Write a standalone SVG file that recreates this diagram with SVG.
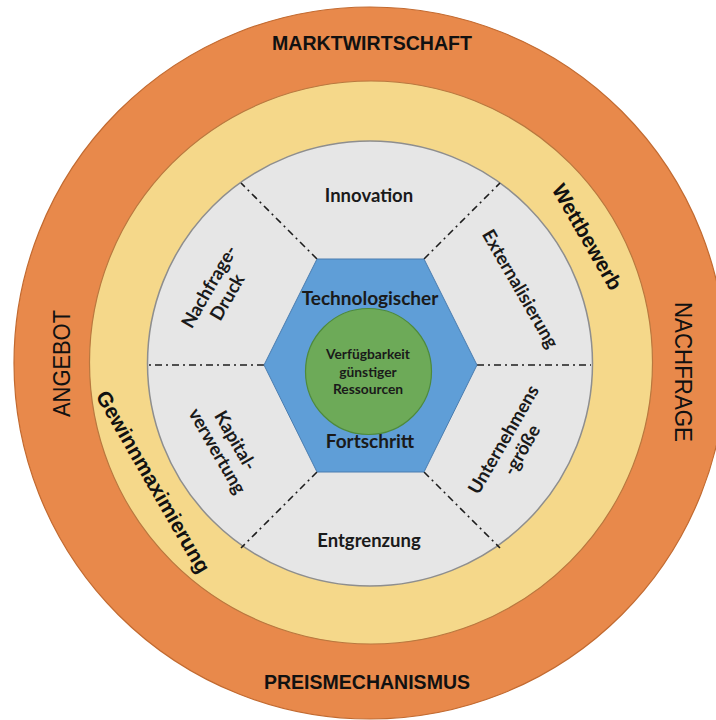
<svg xmlns="http://www.w3.org/2000/svg" width="716" height="720" viewBox="0 0 716 720">
  <style>
    .ring-o { fill: #E8894B; stroke: #C26A30; stroke-width: 1.2; }
    .ring-y { fill: #F5D88A; stroke: #B9783F; stroke-width: 1.2; }
    .ring-g { fill: #E6E6E6; stroke: #8E8E8E; stroke-width: 1.5; }
    .hex { fill: #5F9ED7; stroke: #4A7DB0; stroke-width: 1; }
    .core { fill: #6DAA58; stroke: #4E8A3B; stroke-width: 1.2; }
    .dd { stroke: #1E1E1E; stroke-width: 1.6; stroke-dasharray: 7 4 2 4; fill: none; }
    .outer { font-family: "Liberation Sans", Arial, sans-serif; fill: #111; }
    .b { font-weight: bold; }
    .seg { font-family: Lato, "Open Sans", sans-serif; font-weight: bold; font-size: 18.5px; fill: #1A1A1A; text-anchor: middle; }
    .hexlbl { font-size: 19px; }
    .corelbl { font-size: 13.8px; }
  </style>

  <g id="ring-markt">
    <circle class="ring-o" cx="370" cy="363" r="356"/>
    <text class="outer b" x="372" y="50" font-size="20" text-anchor="middle" textLength="200" lengthAdjust="spacingAndGlyphs">MARKTWIRTSCHAFT</text>
    <text class="outer b" x="367" y="689" font-size="20" text-anchor="middle" textLength="206" lengthAdjust="spacingAndGlyphs">PREISMECHANISMUS</text>
    <text class="outer" transform="translate(70,363.5) rotate(-90)" font-size="24" text-anchor="middle" textLength="107" lengthAdjust="spacingAndGlyphs">ANGEBOT</text>
    <text class="outer" transform="translate(675,372) rotate(90)" font-size="24" text-anchor="middle" textLength="140" lengthAdjust="spacingAndGlyphs">NACHFRAGE</text>
  </g>

  <g id="ring-wettbewerb">
    <circle class="ring-y" cx="371" cy="362.5" r="281.5"/>
    <text class="outer b" transform="translate(587,237) rotate(60)" font-size="21" text-anchor="middle" dy="7">Wettbewerb</text>
    <text class="outer b" transform="translate(153,482) rotate(60)" font-size="21" text-anchor="middle" dy="7">Gewinnmaximierung</text>
  </g>

  <g id="ring-faktoren">
    <circle class="ring-g" cx="370" cy="363.5" r="222.5"/>
  </g>

  <g id="connectors">
    <line class="dd" x1="317" y1="259" x2="241" y2="183"/>
    <line class="dd" x1="424" y1="259" x2="500" y2="183"/>
    <line class="dd" x1="317" y1="472" x2="241" y2="548"/>
    <line class="dd" x1="424" y1="472" x2="500" y2="548"/>
    <line class="dd" x1="264" y1="365" x2="149" y2="365"/>
    <line class="dd" x1="477" y1="365" x2="591" y2="365"/>
  </g>

  <g id="seg-innovation">
    <text class="seg" x="369" y="202">Innovation</text>
  </g>
  <g id="seg-externalisierung">
    <text class="seg" transform="translate(520,289) rotate(60)" y="6">Externalisierung</text>
  </g>
  <g id="seg-unternehmensgroesse">
    <text class="seg" transform="translate(513,445) rotate(-60)"><tspan x="0" y="-4.5">Unternehmens</tspan><tspan x="0" y="16.5">-größe</tspan></text>
  </g>
  <g id="seg-entgrenzung">
    <text class="seg" x="369" y="547">Entgrenzung</text>
  </g>
  <g id="seg-kapitalverwertung">
    <text class="seg" transform="translate(226,446) rotate(60)"><tspan x="0" y="-4.5">Kapital-</tspan><tspan x="0" y="16.5">verwertung</tspan></text>
  </g>
  <g id="seg-nachfragedruck">
    <text class="seg" transform="translate(218.5,292) rotate(-60)"><tspan x="0" y="-4.5">Nachfrage-</tspan><tspan x="0" y="16.5">Druck</tspan></text>
  </g>

  <g id="hex-fortschritt">
    <polygon class="hex" points="317,259 424,259 477,365 424,472 317,472 264,365"/>
    <text class="seg hexlbl" x="370" y="305">Technologischer</text>
    <text class="seg hexlbl" x="370" y="448">Fortschritt</text>
  </g>

  <g id="core-ressourcen">
    <circle class="core" cx="368.5" cy="371.5" r="63"/>
    <text class="seg corelbl"><tspan x="368" y="359">Verfügbarkeit</tspan><tspan x="368" y="376.5">günstiger</tspan><tspan x="368" y="394">Ressourcen</tspan></text>
  </g>
</svg>
